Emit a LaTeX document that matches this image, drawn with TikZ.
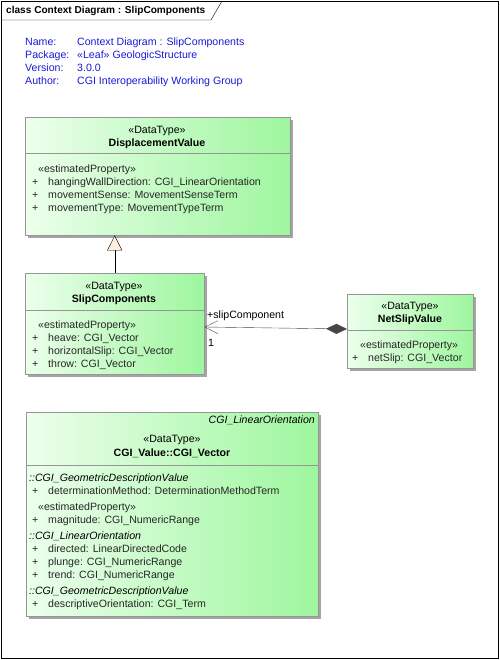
\documentclass[tikz,border=0pt]{standalone}
\usepackage{fontspec}
\setmainfont{Liberation Sans}
\usetikzlibrary{arrows.meta,shadows}
\definecolor{boxleft}{RGB}{236,255,236}
\definecolor{boxright}{RGB}{158,246,158}
\definecolor{boxline}{RGB}{150,150,150}
\definecolor{boxshade}{RGB}{165,165,165}
\definecolor{infoblue}{RGB}{25,25,215}
\definecolor{tricream}{RGB}{255,240,222}
\definecolor{linegrey}{RGB}{70,70,70}
\begin{document}
\begin{tikzpicture}[x=1pt,y=-1pt,
  every node/.style={font=\fontsize{10.6}{12}\selectfont, inner sep=0pt, text height=7.5pt, text depth=2pt},
  classbox/.style 2 args={draw=boxline, left color=boxleft, right color=boxright, anchor=north west,
    minimum width=#1pt, minimum height=#2pt,
    drop shadow={shadow xshift=3pt, shadow yshift=-3pt, fill=boxshade, opacity=1}},
  info/.style={anchor=west, text=infoblue},
  stereo/.style={anchor=center},
  cname/.style={anchor=center, font=\fontsize{10.6}{12}\selectfont\bfseries},
  attr/.style={anchor=west, text=black!85},
  sect/.style={anchor=west, font=\fontsize{10.6}{12}\selectfont\itshape},
  divider/.style={draw=boxline}]
\useasboundingbox (0,0) rectangle (499,660);

% frame and title tab
\draw (1,1) rectangle (498,658);
\draw (1,20) -- (211,20) -- (222,1);
\node[anchor=west, font=\fontsize{10.1}{12}\selectfont\bfseries] (title) at (6,10.5) {class Context Diagram : SlipComponents};

% diagram info
\node[info] (nameKey) at (25,42.5) {Name:};
\node[info] (nameVal) at (77,42.5) {Context Diagram : SlipComponents};
\node[info] (pkgKey) at (25,55.5) {Package:};
\node[info] (pkgVal) at (77,55.5) {«Leaf» GeologicStructure};
\node[info] (verKey) at (25,68.5) {Version:};
\node[info] (verVal) at (77,68.5) {3.0.0};
\node[info] (authKey) at (25,81.5) {Author:};
\node[info] (authVal) at (77,81.5) {CGI Interoperability Working Group};

% DisplacementValue
\node[classbox={265}{118}] (disp) at (25,117) {};
\draw[divider] (disp.west |- 0,153) -- (disp.east |- 0,153);
\node[stereo] (dispStereo) at (157,131) {«DataType»};
\node[cname] (dispName) at (157,143.5) {DisplacementValue};
\node[attr] (dispEst) at (38,170) {«estimatedProperty»};
\node[attr] (dispP1) at (32,182.5) {+};
\node[attr] (dispA1) at (48,182.5) {hangingWallDirection: CGI\_LinearOrientation};
\node[attr] (dispP2) at (32,195.5) {+};
\node[attr] (dispA2) at (48,195.5) {movementSense: MovementSenseTerm};
\node[attr] (dispP3) at (32,208.5) {+};
\node[attr] (dispA3) at (48,208.5) {movementType: MovementTypeTerm};

% SlipComponents
\node[classbox={179}{101}] (slip) at (25,273) {};
\draw[divider] (slip.west |- 0,310) -- (slip.east |- 0,310);
\node[stereo] (slipStereo) at (114,287) {«DataType»};
\node[cname] (slipName) at (114,299.5) {SlipComponents};
\node[attr] (slipEst) at (38,326) {«estimatedProperty»};
\node[attr] (slipP1) at (32,338.5) {+};
\node[attr] (slipA1) at (48,338.5) {heave: CGI\_Vector};
\node[attr] (slipP2) at (32,351.5) {+};
\node[attr] (slipA2) at (48,351.5) {horizontalSlip: CGI\_Vector};
\node[attr] (slipP3) at (32,364.5) {+};
\node[attr] (slipA3) at (48,364.5) {throw: CGI\_Vector};

% NetSlipValue
\node[classbox={126}{74}] (net) at (347,294) {};
\draw[divider] (net.west |- 0,330) -- (net.east |- 0,330);
\node[stereo] (netStereo) at (410,307) {«DataType»};
\node[cname] (netName) at (410,319.5) {NetSlipValue};
\node[attr] (netEst) at (360,346) {«estimatedProperty»};
\node[attr] (netP1) at (352,358.5) {+};
\node[attr] (netA1) at (368,358.5) {netSlip: CGI\_Vector};

% CGI_Vector
\node[classbox={292}{204}] (vec) at (26,412) {};
\draw[divider] (vec.west |- 0,465) -- (vec.east |- 0,465);
\node[anchor=east, font=\fontsize{10.6}{12}\selectfont\itshape] (vecParent) at (315,420.5) {CGI\_LinearOrientation};
\node[stereo] (vecStereo) at (172,440) {«DataType»};
\node[cname] (vecName) at (172,453.5) {CGI\_Value::CGI\_Vector};
\node[sect] (vecS1) at (29,478.5) {::CGI\_GeometricDescriptionValue};
\node[attr] (vecP1) at (32,491.5) {+};
\node[attr] (vecA1) at (48,491.5) {determinationMethod: DeterminationMethodTerm};
\node[attr] (vecEst) at (38,507.5) {«estimatedProperty»};
\node[attr] (vecP2) at (32,520.5) {+};
\node[attr] (vecA2) at (48,520.5) {magnitude: CGI\_NumericRange};
\node[sect] (vecS2) at (29,536.5) {::CGI\_LinearOrientation};
\node[attr] (vecP3) at (32,549.5) {+};
\node[attr] (vecA3) at (48,549.5) {directed: LinearDirectedCode};
\node[attr] (vecP4) at (32,562.5) {+};
\node[attr] (vecA4) at (48,562.5) {plunge: CGI\_NumericRange};
\node[attr] (vecP5) at (32,575.5) {+};
\node[attr] (vecA5) at (48,575.5) {trend: CGI\_NumericRange};
\node[sect] (vecS3) at (29,591.5) {::CGI\_GeometricDescriptionValue};
\node[attr] (vecP6) at (32,604.5) {+};
\node[attr] (vecA6) at (48,604.5) {descriptiveOrientation: CGI\_Term};

% generalization
\draw[-{Triangle[open, length=15pt, width=15pt, fill=tricream]}] (slip.north) -- (slip.north |- disp.south);

% composition
\draw[linegrey, {Straight Barb[length=13pt, width=13pt]}-{Diamond[length=21pt, width=10pt, fill=linegrey]}]
  (slip.east |- 0,327) -- (net.west |- 0,329);
\node[anchor=west] (roleLabel) at (207,315.5) {+slipComponent};
\node[anchor=west] (multLabel) at (208,343.5) {1};
\end{tikzpicture}
\end{document}
